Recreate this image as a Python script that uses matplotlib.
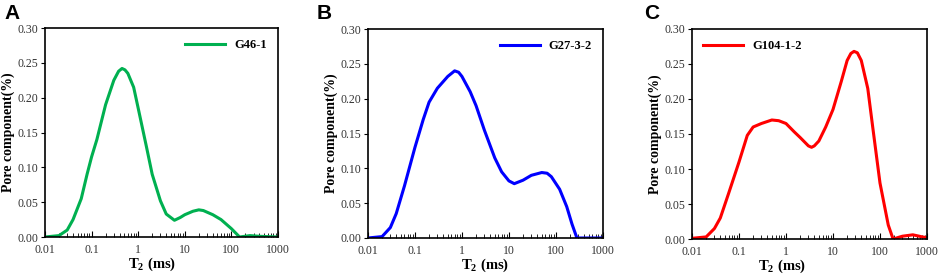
import numpy as np
import matplotlib
matplotlib.use('Agg')
import matplotlib.pyplot as plt
from matplotlib.ticker import LogLocator, NullFormatter, FixedLocator

plt.rcParams['font.family'] = ['Liberation Serif', 'DejaVu Serif']
plt.rcParams['mathtext.fontset'] = 'custom'
plt.rcParams['mathtext.rm'] = 'Liberation Serif'
plt.rcParams['mathtext.bf'] = 'Liberation Serif:bold'

# T2 (ms) and pore component (%)
t2_a = [0.01, 0.02, 0.03, 0.04, 0.06, 0.08, 0.1, 0.13, 0.2, 0.3, 0.38, 0.45, 0.52, 0.6, 0.8, 1,
        1.5, 2, 3, 4, 6, 8, 10, 15, 20, 25, 40, 60, 100, 150, 250, 400, 1000]
pc_a = [0, 0.002, 0.01, 0.025, 0.055, 0.09, 0.115, 0.14, 0.19, 0.225, 0.238, 0.242, 0.240,
        0.235, 0.215, 0.185, 0.13, 0.09, 0.052, 0.033, 0.024, 0.028, 0.032, 0.037, 0.039,
        0.038, 0.032, 0.025, 0.012, 0.0, 0.002, 0.001, 0]

t2_b = [0.01, 0.02, 0.03, 0.04, 0.06, 0.1, 0.15, 0.2, 0.3, 0.5, 0.7, 0.85, 1, 1.5, 2, 3, 5, 7,
        10, 13, 20, 30, 50, 65, 80, 120, 170, 220, 280, 1000]
pc_b = [0, 0.002, 0.015, 0.035, 0.075, 0.13, 0.17, 0.195, 0.215, 0.232, 0.24, 0.238, 0.232,
        0.21, 0.19, 0.155, 0.115, 0.095, 0.082, 0.078, 0.083, 0.09, 0.094, 0.093, 0.088, 0.07,
        0.045, 0.02, 0.0, 0]

t2_c = [0.01, 0.02, 0.03, 0.04, 0.06, 0.1, 0.15, 0.2, 0.3, 0.5, 0.7, 1, 1.5, 2, 3, 3.5, 4, 5, 7,
        10, 15, 20, 24, 28, 33, 40, 55, 70, 100, 150, 190, 300, 500, 800, 1000]
pc_c = [0.001, 0.003, 0.015, 0.03, 0.065, 0.11, 0.148, 0.16, 0.165, 0.17, 0.169, 0.165, 0.153,
        0.145, 0.133, 0.131, 0.133, 0.14, 0.16, 0.185, 0.225, 0.255, 0.265, 0.268, 0.266,
        0.255, 0.215, 0.16, 0.08, 0.02, 0.0, 0.004, 0.006, 0.003, 0.002]

samples = ['G46-1', 'G27-3-2', 'G104-1-2']
letters = ['A', 'B', 'C']
colors = ['#00b050', '#0000ff', '#ff0000']
legend_loc = ['upper right', 'upper right', 'upper left']
yticks = [0.0, 0.05, 0.10, 0.15, 0.20, 0.25, 0.30]
xticks = [0.01, 0.1, 1, 10, 100, 1000]
xticklabels = ['0.01', '0.1', '1', '10', '100', '1000']

fig = plt.figure(figsize=(9.41, 2.76), dpi=100)
positions = [[0.0478, 0.1413, 0.2476, 0.757],
             [0.391, 0.1377, 0.2497, 0.757],
             [0.7354, 0.134, 0.2497, 0.761]]
xlabel_x = [0.46, 0.5, 0.385]
letter_x = [0.005, 0.337, 0.685]
data = [(t2_a, pc_a), (t2_b, pc_b), (t2_c, pc_c)]

for i in range(3):
    ax = fig.add_axes(positions[i])
    x, y = data[i]
    ax.plot(x, y, color=colors[i], lw=2.2, label=samples[i], solid_joinstyle='round')
    ax.set_xscale('log')
    ax.set_xlim(0.01, 1000)
    ax.set_ylim(0, 0.30)
    ax.xaxis.set_major_locator(FixedLocator(xticks))
    ax.set_xticklabels(xticklabels)
    ax.xaxis.set_minor_locator(LogLocator(base=10, subs=np.arange(2, 10)))
    ax.xaxis.set_minor_formatter(NullFormatter())
    ax.set_yticks(yticks)
    ax.set_yticklabels(['%.2f' % v for v in yticks])
    ax.tick_params(axis='x', which='major', direction='in', length=4, labelsize=8.5,
                   pad=5, labelcolor='#333333')
    ax.tick_params(axis='x', which='minor', direction='in', length=3)
    ax.tick_params(axis='y', direction='out', length=3, labelsize=8.5, pad=2,
                   labelcolor='#333333')
    for s in ax.spines.values():
        s.set_linewidth(1.2)
    ax.set_xlabel('T$_\\mathbf{2}$ (ms)', fontsize=10.5, fontweight='bold')
    ax.xaxis.set_label_coords(xlabel_x[i], -0.09, transform=ax.transAxes)
    ax.xaxis.label.set_va('top')
    ax.set_ylabel('Pore component(%)', fontsize=10, fontweight='bold')
    ax.yaxis.set_label_coords(-0.158, 0.5, transform=ax.transAxes)
    ax.yaxis.label.set_va('center')
    ax.legend(loc=legend_loc[i], frameon=False, prop={'weight': 'bold', 'size': 9},
              handlelength=3.2, handletextpad=0.7)
    fig.text(letter_x[i], 0.985, letters[i], fontsize=15, fontweight='bold',
             family='Liberation Sans', va='top', ha='left')

fig.savefig('out.png', dpi=100)
